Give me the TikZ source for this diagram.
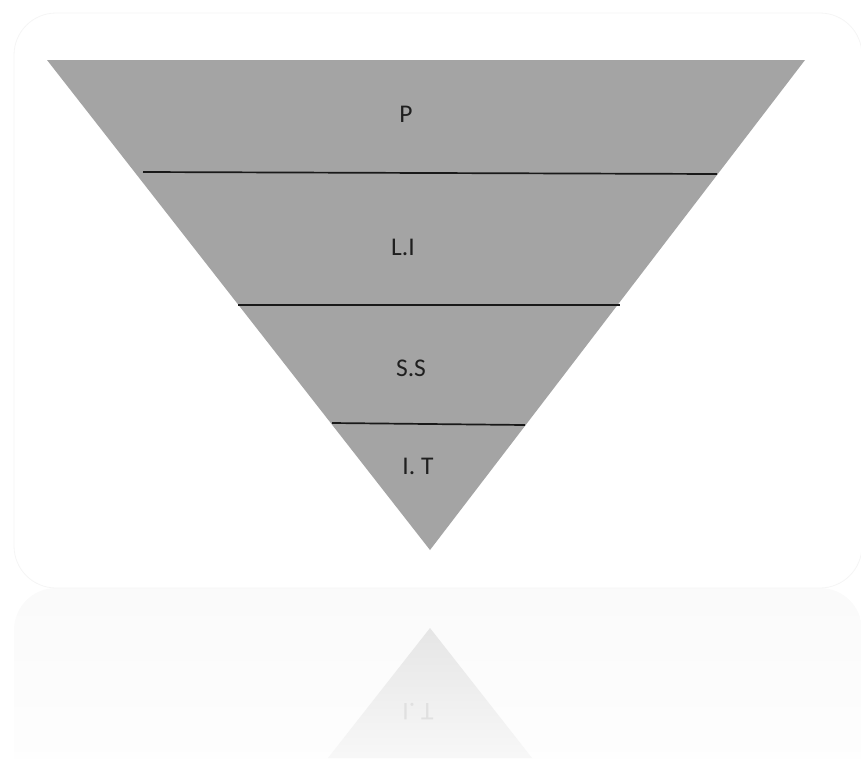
\documentclass[tikz,border=0pt]{standalone}
\usepackage{fontspec}
\setmainfont{Carlito}
\begin{document}
\begin{tikzpicture}[x=1pt,y=-1pt,
  panel/.style={draw=black!4, fill=white, rounded corners=42pt, line width=0.8pt},
  tri/.style={fill=black!35.5},
  divider/.style={draw=black!90, line width=1.7pt},
  lbl/.style={text=black!88, font=\fontsize{25.5}{30}\selectfont, inner sep=0pt},
  ghost/.style={text=black!12, font=\fontsize{25.5}{30}\selectfont, inner sep=0pt}]
\useasboundingbox (0,0) rectangle (861,758);
\begin{scope}
\clip (0,0) rectangle (861,758);
% reflection backdrop
\shade[top color=black!2, bottom color=white, rounded corners=42pt] (14,588) rectangle (862,820);
% main panel
\path[panel] (14,13) rectangle (862,588);
% reflected triangle
\coordinate (ra) at (430,628);
\coordinate (rl) at (328,758);
\coordinate (rr) at (532,758);
\shade[top color=black!10, bottom color=black!3] (ra) -- (rl) -- (rr) -- cycle;
\node[ghost] (rt) at (418,712) {\scalebox{1}[-1]{I. T}};
\end{scope}
% main triangle
\coordinate (tl) at (47,60);
\coordinate (tr) at (805,60);
\coordinate (ap) at (430,550);
\fill[tri] (tl) -- (tr) -- (ap) -- cycle;
% dividers
\coordinate (a1) at (143,172); \coordinate (b1) at (717,174);
\coordinate (a2) at (238,305); \coordinate (b2) at (620,305);
\coordinate (a3) at (332,423); \coordinate (b3) at (525,425);
\draw[divider] (a1) -- (b1);
\draw[divider] (a2) -- (b2);
\draw[divider] (a3) -- (b3);
% labels
\node[lbl] (p) at (406,114) {P};
\node[lbl] (li) at (403,247) {L.I};
\node[lbl] (ss) at (411,368) {S.S};
\node[lbl] (it) at (418,466) {I. T};
\end{tikzpicture}
\end{document}
